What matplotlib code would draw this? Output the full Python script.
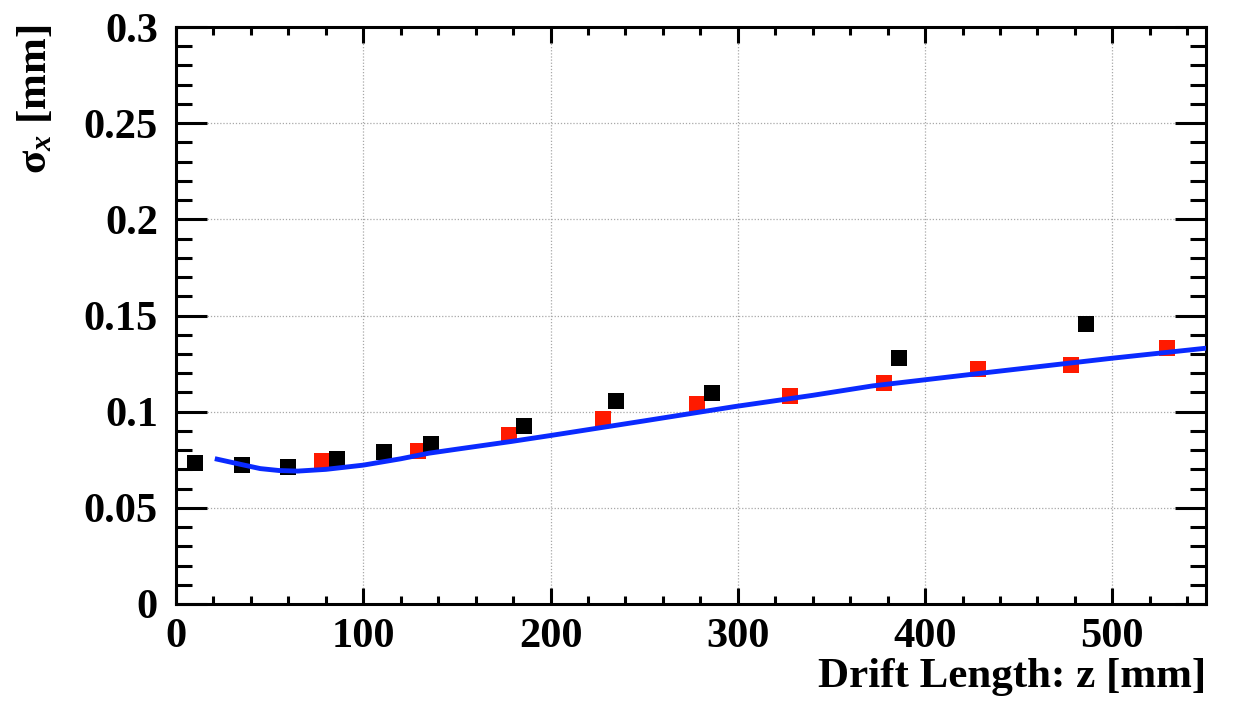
import matplotlib
matplotlib.use("Agg")
import matplotlib.pyplot as plt
from matplotlib.ticker import MultipleLocator

# Data
black_z = [10, 35, 60, 86, 111, 136, 186, 235, 286, 386, 486]
black_sigma = [0.0732, 0.0722, 0.0711, 0.0753, 0.0789, 0.0830, 0.0928, 0.1057, 0.1098, 0.1278, 0.1454]

red_z = [78, 129, 178, 228, 278, 328, 378, 428, 478, 529]
red_sigma = [0.0742, 0.0794, 0.0881, 0.0964, 0.1041, 0.1082, 0.1149, 0.1222, 0.1242, 0.1330]

fit_z = [22, 35, 45, 55, 65, 80, 100, 120, 135, 150, 179, 200, 250, 298, 340, 372, 430, 500, 550]
fit_sigma = [0.0753, 0.0725, 0.0704, 0.0694, 0.0691, 0.0700, 0.0722, 0.0755, 0.0784, 0.0805, 0.0845,
             0.0876, 0.0952, 0.1026, 0.1085, 0.1134, 0.1200, 0.1278, 0.1330]

x_ticks = [0, 100, 200, 300, 400, 500]
y_ticks = [0, 0.05, 0.1, 0.15, 0.2, 0.25, 0.3]
y_tick_labels = ["0", "0.05", "0.1", "0.15", "0.2", "0.25", "0.3"]

plt.rcParams['font.family'] = ['Liberation Serif', 'DejaVu Serif']
plt.rcParams['font.weight'] = 'bold'
plt.rcParams['mathtext.fontset'] = 'custom'
plt.rcParams['mathtext.rm'] = 'Liberation Serif:bold'
plt.rcParams['mathtext.it'] = 'Liberation Serif:italic'
plt.rcParams['mathtext.bf'] = 'Liberation Serif:bold'

W, H = 1238, 707
fig = plt.figure(figsize=(W / 100, H / 100), dpi=100)
left, right, top, bottom = 176, 1206, 27, 604
ax = fig.add_axes([left / W, 1 - bottom / H, (right - left) / W, (bottom - top) / H])

ax.plot(red_z, red_sigma, linestyle='none', marker='s', markersize=11.5,
        color='#ff1a00', markeredgewidth=0, zorder=3)
ax.plot(black_z, black_sigma, linestyle='none', marker='s', markersize=11.5,
        color='black', markeredgewidth=0, zorder=4)
ax.plot(fit_z, fit_sigma, color='#0a2aff', linewidth=3.5, zorder=5)

ax.set_xlim(0, 550)
ax.set_ylim(0, 0.3)
ax.set_xticks(x_ticks)
ax.set_xticklabels([str(v) for v in x_ticks])
ax.set_yticks(y_ticks)
ax.set_yticklabels(y_tick_labels)
ax.xaxis.set_minor_locator(MultipleLocator(20))
ax.yaxis.set_minor_locator(MultipleLocator(0.01))

for s in ax.spines.values():
    s.set_linewidth(2.2)

ax.tick_params(axis='both', which='both', direction='in', top=True, right=True,
               width=2.2, labelsize=30.5)
ax.tick_params(axis='x', which='major', length=11.5, pad=10)
ax.tick_params(axis='x', which='minor', length=5.8)
ax.tick_params(axis='y', which='major', length=22, pad=13)
ax.tick_params(axis='y', which='minor', length=11.5)

ax.grid(True, which='major', color='#a8a8a8', linestyle=(0, (1, 1.5)), linewidth=0.9)
ax.set_axisbelow(True)

ax.set_xlabel("Drift Length: z [mm]", fontsize=31, fontweight='bold', loc='right')
ax.xaxis.set_label_coords(1.0, -0.093)
ax.set_ylabel(r"$\mathrm{\sigma}_{\mathit{x}}$ [mm]", fontsize=31, fontweight='bold', loc='top')
ax.yaxis.set_label_coords(-0.117, 1.004)

fig.savefig("out.png", dpi=100)
